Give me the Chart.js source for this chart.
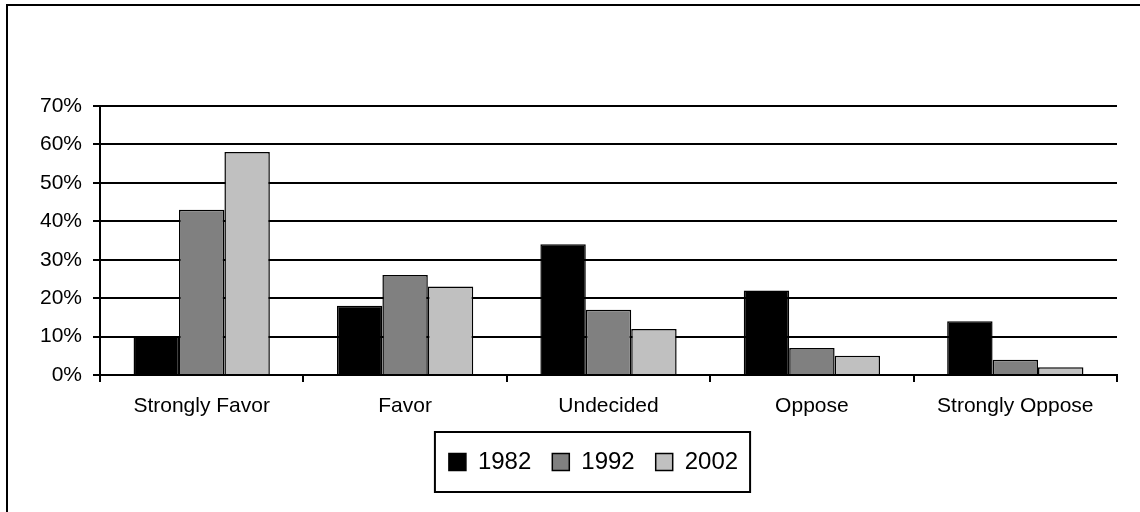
<!DOCTYPE html>
<html>
<head>
<meta charset="utf-8">
<script src="https://cdn.jsdelivr.net/npm/chart.js@4"></script>
<style>
  html, body { margin: 0; padding: 0; background: #fff; overflow: hidden; }
  #wrap { position: relative; width: 1140px; height: 512px; }
  #frame { position: absolute; left: 6px; top: 4px; width: 1200px; height: 600px;
           border-left: 2px solid #000; border-top: 2px solid #000; pointer-events: none; }
  canvas { position: absolute; left: 0; top: 0; }
</style>
</head>
<body>
<div id="wrap">
  <div id="frame"></div>
  <canvas id="c" width="1140" height="512"></canvas>
</div>
<script>
// categories and values (percent)
const categories = ["Strongly Favor", "Favor", "Undecided", "Oppose", "Strongly Oppose"];
const years = ["1982", "1992", "2002"];
const v1982 = [10, 18, 34, 22, 14];
const v1992 = [43, 26, 17, 7, 4];
const v2002 = [58, 23, 12, 5, 2];
const yTicks = [0, 10, 20, 30, 40, 50, 60, 70];

const fills = ["#000000", "#808080", "#c0c0c0"];
const FONT = "'Liberation Sans', Arial, sans-serif";

// legend sits a little right of the canvas centre in the original
const legendShift = {
  id: "legendShift",
  afterLayout(chart){
    chart.legend.left += 35;
    chart.legend.right += 35;
  }
};

// box drawn around the legend, like the original
const legendFrame = {
  id: "legendFrame",
  afterDraw(chart){
    const hb = chart.legend.legendHitBoxes;
    if(!hb || !hb.length) return;
    const first = hb[0], last = hb[hb.length - 1];
    const cy = first.top + first.height / 2;
    const ctx = chart.ctx;
    const x0 = first.left - 14, x1 = last.left + last.width + 12;
    ctx.save();
    ctx.strokeStyle = "#000";
    ctx.lineWidth = 2;
    ctx.strokeRect(x0, cy - 30, x1 - x0, 60);
    ctx.restore();
  }
};

new Chart(document.getElementById("c"), {
  type: "bar",
  data: {
    labels: categories,
    datasets: [v1982, v1992, v2002].map((d, i) => ({
      label: years[i],
      data: d,
      backgroundColor: fills[i],
      borderColor: "#000",
      borderWidth: 1.5,
      borderSkipped: "bottom",
      categoryPercentage: 0.67,
      barPercentage: 1
    }))
  },
  options: {
    responsive: false,
    animation: false,
    devicePixelRatio: 1,
    layout: { padding: { left: 0, right: 23, top: 106, bottom: 28 } },
    plugins: {
      tooltip: { enabled: false },
      legend: {
        position: "bottom",
        labels: {
          color: "#000",
          font: { family: FONT, size: 24 },
          boxWidth: 17,
          boxHeight: 17,
          padding: 21
        }
      }
    },
    scales: {
      x: {
        grid: { drawOnChartArea: false, drawTicks: true, tickLength: 7, color: "#000", lineWidth: 2, offset: true },
        border: { color: "#000", width: 2 },
        ticks: { color: "#000", font: { family: FONT, size: 21 }, padding: 12, maxRotation: 0 },
        afterFit(scale){ scale.height = 54; }
      },
      y: {
        min: 0,
        max: 70,
        afterBuildTicks(scale){ scale.ticks = yTicks.map(v => ({ value: v })); },
        grid: { color: "#000", lineWidth: 2, tickLength: 7 },
        border: { color: "#000", width: 2 },
        ticks: { color: "#000", font: { family: FONT, size: 21 }, padding: 11, callback: v => v + "%" },
        afterFit(scale){ scale.width = 100; }
      }
    }
  },
  plugins: [legendShift, legendFrame]
});
</script>
</body>
</html>
